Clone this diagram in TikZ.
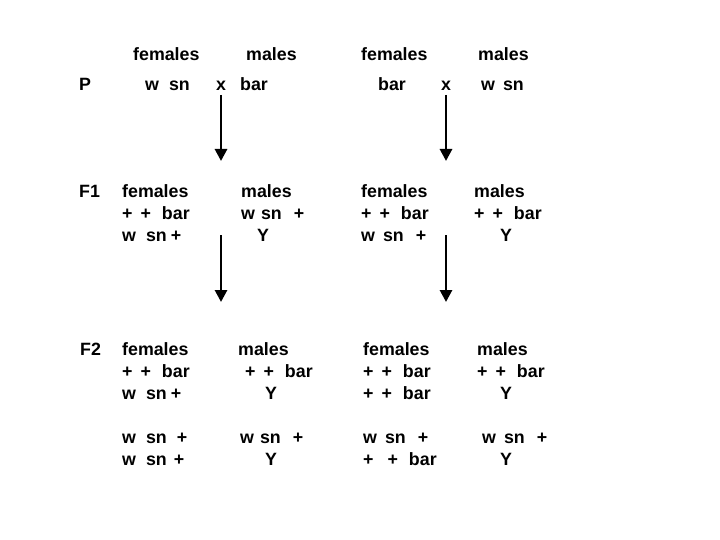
\documentclass[tikz,border=0pt]{standalone}
\usepackage{fontspec}
\setmainfont{Liberation Sans}
\usetikzlibrary{arrows.meta}
\newcommand{\gp}[1]{\hspace{#1pt}}
\newcommand{\ppbar}{+\gp{8}+\gp{11}bar}
\begin{document}
\begin{tikzpicture}[x=1pt,y=-1pt,
  txt/.style={anchor=base west,inner sep=0pt,align=left,font=\fontsize{17.8}{22}\selectfont\bfseries},
  blk/.style={txt,anchor=north west},
  arr/.style={line width=2.8pt,-{Triangle[length=12pt,width=12pt]}}]
\useasboundingbox[fill=white] (0,0) rectangle (720,540);
% header
\node[txt] (hf1) at (133,61) {females};
\node[txt] (hm1) at (246,61) {males};
\node[txt] (hf2) at (361,61) {females};
\node[txt] (hm2) at (478,61) {males};
% P row
\node[txt] (P)   at (79,91)  {P};
\node[txt] (pw1) at (145,91) {w\gp{10}sn};
\node[txt] (px1) at (216,91) {x};
\node[txt] (pb1) at (240,91) {bar};
\node[txt] (pb2) at (378,91) {bar};
\node[txt] (px2) at (441,91) {x};
\node[txt] (pw2) at (481,91) {w\gp{8}sn};
% F1 row
\node[txt] (F1) at (79,197) {F1};
\node[blk] (f1a) at (122,184) {females\\\ppbar\\w\gp{10}sn\gp{4}+};
\node[blk] (f1b) at (241,184) {males\\w\gp{6}sn\gp{12}+\\\gp{16}Y};
\node[blk] (f1c) at (361,184) {females\\\ppbar\\w\gp{8}sn\gp{12}+};
\node[blk] (f1d) at (474,184) {males\\\ppbar\\\gp{26}Y};
% F2 row
\node[txt] (F2) at (80,355) {F2};
\node[blk] (f2a) at (122,342) {females\\\ppbar\\w\gp{10}sn\gp{4}+\\[22pt]w\gp{10}sn\gp{10}+\\w\gp{10}sn\gp{7}+};
\node[blk] (f2b) at (238,342) {males\\\gp{7}\ppbar\\\gp{27}Y\\[22pt]\gp{2}w\gp{6}sn\gp{12}+\\\gp{27}Y};
\node[blk] (f2c) at (363,342) {females\\\ppbar\\\ppbar\\[22pt]w\gp{8}sn\gp{12}+\\+\gp{14}+\gp{11}bar};
\node[blk] (f2d) at (477,342) {males\\\ppbar\\\gp{23}Y\\[22pt]\gp{5}w\gp{8}sn\gp{12}+\\\gp{23}Y};
% arrows
\coordinate (a1s) at (221,95);  \coordinate (a1e) at (221,161);
\coordinate (a2s) at (446,95);  \coordinate (a2e) at (446,161);
\coordinate (a3s) at (221,235); \coordinate (a3e) at (221,302);
\coordinate (a4s) at (446,235); \coordinate (a4e) at (446,302);
\draw[arr] (a1s) -- (a1e);
\draw[arr] (a2s) -- (a2e);
\draw[arr] (a3s) -- (a3e);
\draw[arr] (a4s) -- (a4e);
\end{tikzpicture}
\end{document}
